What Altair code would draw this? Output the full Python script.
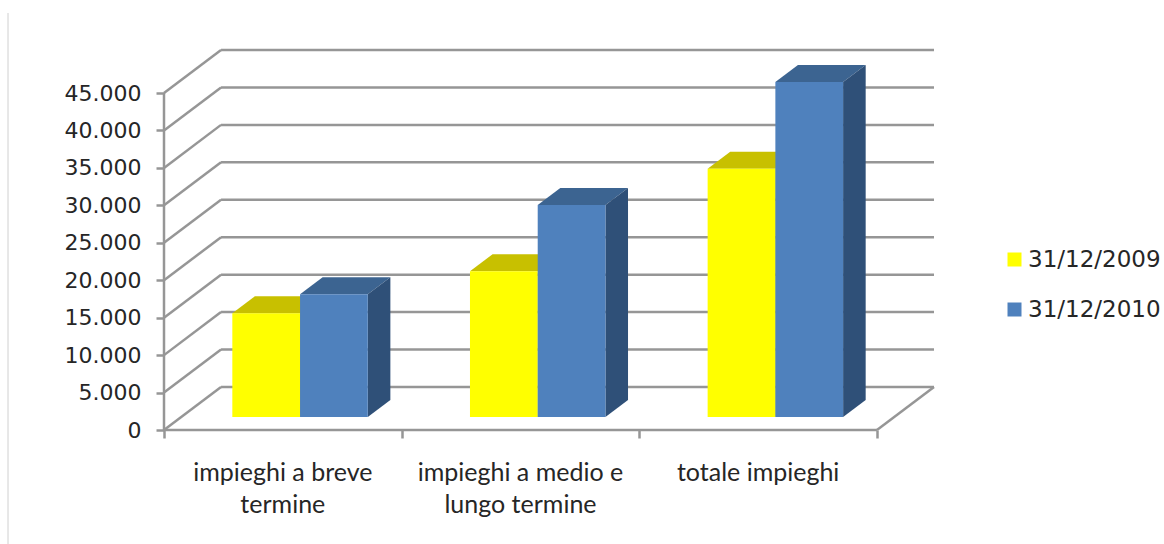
import altair as alt
import pandas as pd

# Values per category and period
categories = ["impieghi a breve\ntermine", "impieghi a medio e\nlungo termine", "totale impieghi"]
series = ["31/12/2009", "31/12/2010"]
values_2009 = [13850, 19450, 33150]
values_2010 = [16400, 28300, 44750]
y_ticks = [0, 5000, 10000, 15000, 20000, 25000, 30000, 35000, 40000, 45000]

front_colors = ["#ffff00", "#4f81bd"]
top_colors = ["#c8c000", "#3c6491"]
side_colors = ["#c8c000", "#2f5078"]
grid_color = "#969696"
text_color = "#262626"

# Depth of the pseudo-3D box and of the bars, in axis units
wall_dx, wall_dy = 0.24, 5750
bar_dx, bar_dy = 0.095, 2270
bar_w = 0.285
base_y = (wall_dy - bar_dy) / 2
base_x = (wall_dx - bar_dx) / 2

x_dom = [0, 3 + wall_dx]
y_dom = [0, 45000 + wall_dy]
x_scale = alt.Scale(domain=x_dom, nice=False, zero=False)
y_scale = alt.Scale(domain=y_dom, nice=False)

# Wall and floor lines
lines = []
for v in y_ticks:
    lines += [
        {"id": f"w{v}", "x": wall_dx, "y": v + wall_dy},
        {"id": f"w{v}", "x": 3 + wall_dx, "y": v + wall_dy},
        {"id": f"s{v}", "x": 0, "y": v},
        {"id": f"s{v}", "x": wall_dx, "y": v + wall_dy},
    ]
lines += [
    {"id": "front", "x": 0, "y": 0},
    {"id": "front", "x": 3, "y": 0},
    {"id": "floor", "x": 3, "y": 0},
    {"id": "floor", "x": 3 + wall_dx, "y": wall_dy},
    {"id": "left", "x": 0, "y": 0},
    {"id": "left", "x": 0, "y": 45000},
]

# Bar faces
fronts, faces = [], []
for i in range(len(categories)):
    for s, vals in enumerate([values_2009, values_2010]):
        v = vals[i]
        x0 = i + 0.5 + base_x - bar_w + s * bar_w
        x1 = x0 + bar_w
        top = v + base_y
        fronts.append({"x": x0, "x2": x1, "y": base_y, "y2": top, "series": series[s]})
        fid = f"{i}-{s}"
        faces += [
            {"id": "t" + fid, "x": x0, "lo": top, "hi": top, "c": top_colors[s]},
            {"id": "t" + fid, "x": x0 + bar_dx, "lo": top, "hi": top + bar_dy, "c": top_colors[s]},
            {"id": "t" + fid, "x": x1, "lo": top, "hi": top + bar_dy, "c": top_colors[s]},
            {"id": "t" + fid, "x": x1 + bar_dx, "lo": top + bar_dy, "hi": top + bar_dy, "c": top_colors[s]},
            {"id": "s" + fid, "x": x1, "lo": base_y, "hi": top, "c": side_colors[s]},
            {"id": "s" + fid, "x": x1 + bar_dx, "lo": base_y + bar_dy, "hi": top + bar_dy, "c": side_colors[s]},
        ]

label_df = pd.DataFrame({"x": [i + 0.5 for i in range(3)], "t": categories})

x_enc = alt.X(
    "x:Q", scale=x_scale, title=None,
    axis=alt.Axis(values=[0, 1, 2, 3], labels=False, domain=False, grid=False,
                  tickSize=8, tickWidth=2.5, tickColor=grid_color),
)
y_axis = alt.Axis(
    values=y_ticks, domain=False, grid=False, tickSize=8, tickWidth=2.5, tickColor=grid_color,
    labelExpr="replace(format(datum.value, ','), ',', '.')",
    labelFont="DejaVu Sans", labelFontSize=22, labelColor=text_color, labelPadding=15,
)

grid = alt.Chart(pd.DataFrame(lines)).mark_line(color=grid_color, strokeWidth=2.5).encode(
    x=x_enc,
    y=alt.Y("y:Q", scale=y_scale, title=None, axis=y_axis),
    detail="id:N",
)

shaded = alt.Chart(pd.DataFrame(faces)).mark_area().encode(
    x=alt.X("x:Q", scale=x_scale),
    y=alt.Y("lo:Q", scale=y_scale),
    y2="hi:Q",
    detail="id:N",
    color=alt.Color("c:N", scale=None),
)

front = alt.Chart(pd.DataFrame(fronts)).mark_rect().encode(
    x=alt.X("x:Q", scale=x_scale),
    x2="x2:Q",
    y=alt.Y("y:Q", scale=y_scale),
    y2="y2:Q",
    color=alt.Color(
        "series:N",
        scale=alt.Scale(domain=series, range=front_colors),
        legend=alt.Legend(
            title=None, orient="none", legendX=839, legendY=198,
            symbolType="square", symbolSize=196, symbolStrokeWidth=0, symbolOpacity=1,
            labelFont="DejaVu Sans", labelFontSize=23, labelColor=text_color,
            labelOffset=2, rowPadding=26,
        ),
    ),
)

labels = alt.Chart(label_df).mark_text(
    font="Lato", fontSize=25, color=text_color, baseline="top", lineBreak="\n", lineHeight=32,
).encode(
    x=alt.X("x:Q", scale=x_scale),
    y=alt.value(411),
    text="t:N",
)

# Thin frame line along the left edge of the page
edge = alt.Chart(pd.DataFrame({"k": [0]})).mark_rule(color="#d0d0d0", strokeWidth=1).encode(
    x=alt.value(-156), y=alt.value(-37), y2=alt.value(494),
)

chart = (
    alt.layer(edge, grid, shaded, front, labels)
    .resolve_scale(color="independent")
    .properties(
        width=770, height=380,
        autosize=alt.AutoSizeParams(type="none"),
        padding={"left": 164, "top": 50, "right": 230, "bottom": 114},
    )
    .configure_view(stroke=None)
)

chart.save("out.html", embed_options={"renderer": "svg", "actions": False})
